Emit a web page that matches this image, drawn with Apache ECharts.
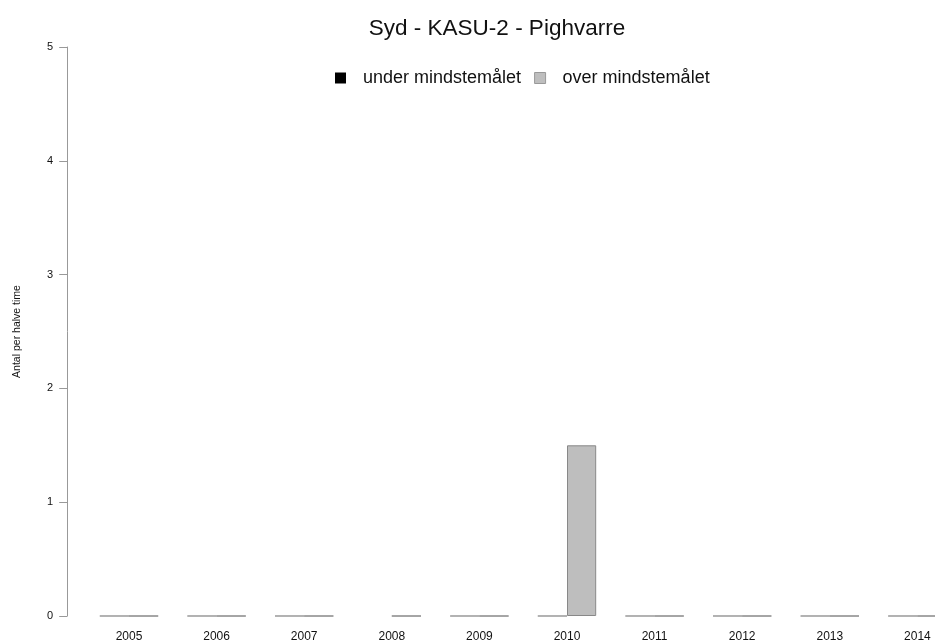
<!DOCTYPE html>
<html>
<head>
<meta charset="utf-8">
<style>
  html, body { margin: 0; padding: 0; background: #fff; }
  #chart { width: 935px; height: 644px; }
</style>
<script src="https://cdn.jsdelivr.net/npm/echarts@6/dist/echarts.min.js"></script>
</head>
<body>
<div id="chart"></div>
<script>
// Years shown on the x axis
const years = ['2005', '2006', '2007', '2008', '2009', '2010', '2011', '2012', '2013', '2014'];
// Counts per half hour below the minimum target ('-' = no value)
const underTarget = [0, 0, 0, '-', 0, 0, 0, 0, 0, 0];
// Counts per half hour above the minimum target
const overTarget = [0, 0, 0, 0, 0, 1.5, 0, 0, 0, 0];
// Y axis ticks
const yTicks = [0, 1, 2, 3, 4, 5];

const FONT = '"Liberation Sans", Arial, sans-serif';
const chart = echarts.init(document.getElementById('chart'), null, { renderer: 'canvas' });

chart.setOption({
  animation: false,
  backgroundColor: '#ffffff',
  title: {
    text: 'Syd - KASU-2 - Pighvarre',
    left: 492,
    top: 12,
    textAlign: 'center',
    textStyle: { fontFamily: FONT, fontSize: 22.5, fontWeight: 'normal', color: '#111' }
  },
  legend: {
    left: 330,
    top: 64,
    itemWidth: 11,
    itemHeight: 11,
    itemGap: 13,
    icon: 'rect',
    textStyle: { fontFamily: FONT, fontSize: 18, color: '#111', padding: [0, 0, 0, 12] },
    data: [
      { name: 'under mindstemålet', itemStyle: { color: '#000', borderWidth: 0 } },
      { name: 'over mindstemålet', itemStyle: { color: '#bebebe', borderColor: '#999', borderWidth: 1 } }
    ]
  },
  grid: { left: 85.2, top: 47, width: 876, height: 569, outerBoundsMode: 'none' },
  xAxis: {
    type: 'category',
    data: years,
    axisLine: { show: false },
    axisTick: { show: false },
    axisLabel: { fontFamily: FONT, fontSize: 12, color: '#111', margin: 15 }
  },
  yAxis: {
    type: 'value',
    min: yTicks[0],
    max: yTicks[yTicks.length - 1],
    interval: 1,
    offset: 18,
    name: 'Antal per halve time',
    nameLocation: 'middle',
    nameGap: 45,
    nameTextStyle: { fontFamily: FONT, fontSize: 10.5, color: '#111' },
    axisLine: { show: true, lineStyle: { color: '#999', width: 1 } },
    axisTick: { show: true, length: 8, lineStyle: { color: '#999' } },
    axisLabel: { fontFamily: FONT, fontSize: 11, color: '#111', margin: 14 },
    splitLine: { show: false }
  },
  series: [
    {
      name: 'under mindstemålet',
      type: 'bar',
      data: underTarget,
      barWidth: 29.2,
      barGap: '0%',
      itemStyle: { color: '#000000', borderColor: '#999', borderWidth: 1 }
    },
    {
      name: 'over mindstemålet',
      type: 'bar',
      data: overTarget,
      barWidth: 29.2,
      barGap: '0%',
      itemStyle: { color: '#bebebe', borderColor: '#888', borderWidth: 1 }
    }
  ]
});
</script>
</body>
</html>
